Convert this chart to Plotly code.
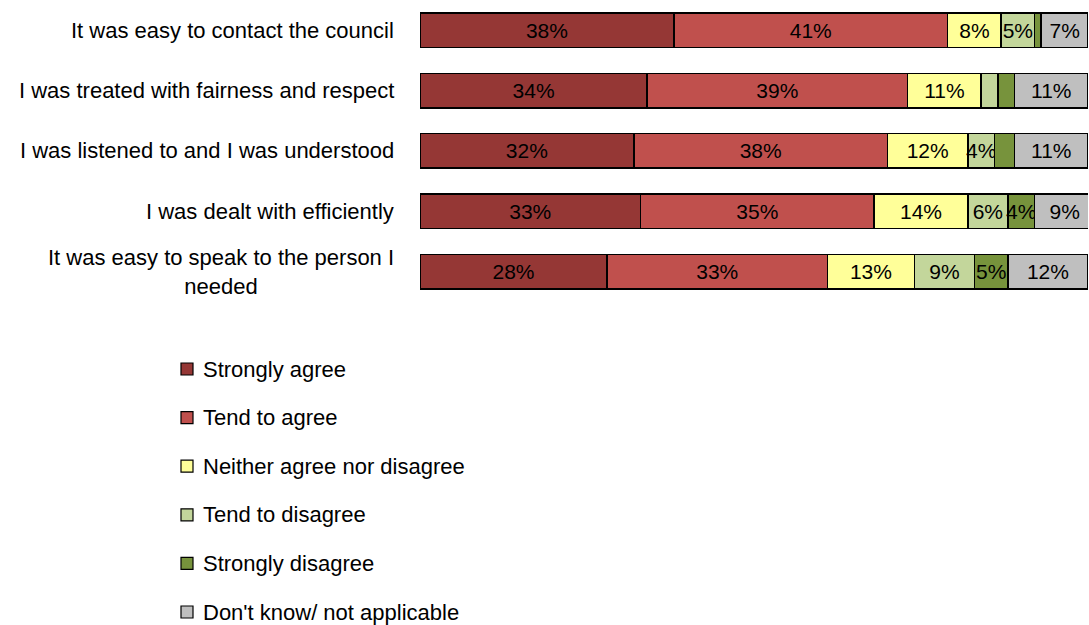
import plotly.graph_objects as go

statements = [
    "It was easy to contact the council",
    "I was treated with fairness and respect",
    "I was listened to and I was understood",
    "I was dealt with efficiently",
    "It was easy to speak to the person I<br>needed",
]

series_names = [
    "Strongly agree",
    "Tend to agree",
    "Neither agree nor disagree",
    "Tend to disagree",
    "Strongly disagree",
    "Don't know/ not applicable",
]

strongly_agree = [38, 34, 32, 33, 28]
tend_to_agree = [41, 39, 38, 35, 33]
neither = [8, 11, 12, 14, 13]
tend_to_disagree = [5, 2.5, 4, 6, 9]
strongly_disagree = [1, 2.5, 3, 4, 5]
dont_know = [7, 11, 11, 9, 12]

# which segments carry a printed percentage
labelled = [
    [True, True, True, True, True],
    [True, True, True, True, True],
    [True, True, True, True, True],
    [True, False, True, True, True],
    [False, False, False, True, True],
    [True, True, True, True, True],
]

colors = ["#953735", "#C0504D", "#FFFF99", "#C3D69B", "#77933C", "#BFBFBF"]
values = [strongly_agree, tend_to_agree, neither, tend_to_disagree,
          strongly_disagree, dont_know]

FONT = "Liberation Sans, Arial, sans-serif"
W, H = 1089, 625
ML = 420  # left margin: room for the statement labels

fig = go.Figure()
for i, (name, vals) in enumerate(zip(series_names, values)):
    texts = [f"{v:g}%" if show else "" for v, show in zip(vals, labelled[i])]
    fig.add_trace(go.Bar(
        y=list(range(len(statements))),
        x=vals,
        name=name,
        orientation="h",
        marker=dict(color=colors[i], line=dict(color="black", width=1.5)),
        text=texts,
        textposition="inside",
        insidetextanchor="middle",
        textangle=0,
        constraintext="none",
        textfont=dict(family=FONT, size=21, color="black"),
        hoverinfo="x+name",
        showlegend=False,
    ))

# statement labels, centred line by line and right-aligned to the bars
for j, s in enumerate(statements):
    fig.add_annotation(
        x=0, xref="paper", xanchor="right", xshift=-24,
        y=j, yref="y", yanchor="middle",
        text=s, showarrow=False, align="center",
        font=dict(family=FONT, size=22, color="black"),
    )

# key below the chart: one swatch and caption per response
plot_w = W - ML - 1
def px_x(px):
    return (px - ML) / plot_w

def px_y(py):
    return 1 - py / H

key_top = 369.0
key_step = 48.6
sw = 12
for i, name in enumerate(series_names):
    cy = key_top + i * key_step
    fig.add_shape(
        type="rect", xref="paper", yref="paper",
        x0=px_x(181), x1=px_x(181 + sw),
        y0=px_y(cy - sw / 2), y1=px_y(cy + sw / 2),
        fillcolor=colors[i], line=dict(color="black", width=1.2),
    )
    fig.add_annotation(
        x=px_x(201), xref="paper", xanchor="left",
        y=px_y(cy), yref="paper", yanchor="middle",
        text=name, showarrow=False,
        font=dict(family=FONT, size=22, color="black"),
    )

fig.update_layout(
    width=W, height=H,
    barmode="stack",
    bargap=0.43,
    plot_bgcolor="white",
    paper_bgcolor="white",
    margin=dict(l=ML, r=1, t=0, b=0, autoexpand=False),
    xaxis=dict(range=[0, 100], visible=False, domain=[0, 1]),
    yaxis=dict(autorange="reversed", showticklabels=False, showgrid=False,
               zeroline=False, showline=False, domain=[0.517, 1]),
    showlegend=False,
)

fig.write_html("out.html")
